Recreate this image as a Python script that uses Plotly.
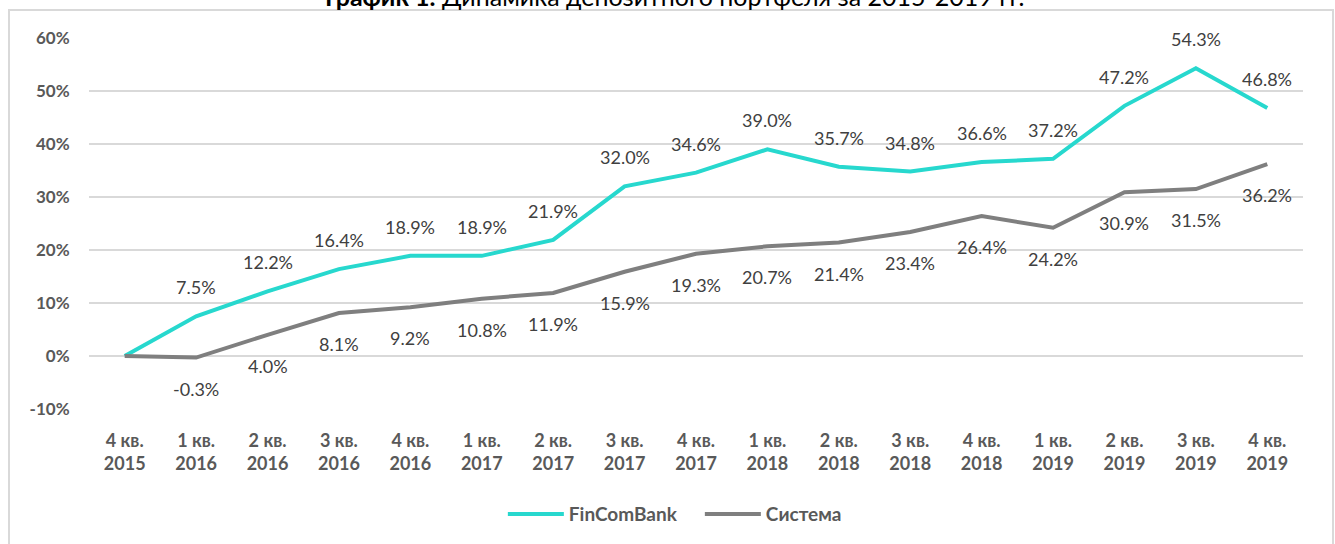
import plotly.graph_objects as go

categories = ["4 кв.<br>2015", "1 кв.<br>2016", "2 кв.<br>2016", "3 кв.<br>2016", "4 кв.<br>2016",
              "1 кв.<br>2017", "2 кв.<br>2017", "3 кв.<br>2017", "4 кв.<br>2017", "1 кв.<br>2018",
              "2 кв.<br>2018", "3 кв.<br>2018", "4 кв.<br>2018", "1 кв.<br>2019", "2 кв.<br>2019",
              "3 кв.<br>2019", "4 кв.<br>2019"]
fincombank = [0.0, 7.5, 12.2, 16.4, 18.9, 18.9, 21.9, 32.0, 34.6, 39.0, 35.7, 34.8, 36.6, 37.2, 47.2, 54.3, 46.8]
sistema = [0.0, -0.3, 4.0, 8.1, 9.2, 10.8, 11.9, 15.9, 19.3, 20.7, 21.4, 23.4, 26.4, 24.2, 30.9, 31.5, 36.2]
y_ticks = [-10, 0, 10, 20, 30, 40, 50, 60]

TEAL = "#27D8CE"
GRAY = "#7F7F7F"
TXT = "#595959"
FONT = "Lato, Open Sans, sans-serif"

fig = go.Figure()
fig.add_trace(go.Scatter(x=categories, y=fincombank, mode="lines", name="FinComBank",
                         line=dict(color=TEAL, width=4)))
fig.add_trace(go.Scatter(x=categories, y=sistema, mode="lines", name="Система",
                         line=dict(color=GRAY, width=4)))

annotations = []
for i, (c, v) in enumerate(zip(categories, fincombank)):
    if i == 0:
        continue
    annotations.append(dict(x=c, y=v, text=f"{v:.1f}%", showarrow=False, yshift=29,
                            font=dict(family=FONT, size=18, color="#404040")))
for i, (c, v) in enumerate(zip(categories, sistema)):
    if i == 0:
        continue
    annotations.append(dict(x=c, y=v, text=f"{v:.1f}%", showarrow=False, yshift=-31,
                            font=dict(family=FONT, size=18, color="#404040")))

annotations.append(dict(xref="paper", yref="paper", x=0.482, y=1.114, xanchor="center", yanchor="middle",
                        text="<b>График 1.</b> Динамика депозитного портфеля за 2015-2019 гг.",
                        showarrow=False, font=dict(family=FONT, size=25, color="#000000")))

fig.update_layout(
    width=1335, height=544,
    margin=dict(l=89, r=32, t=38, b=134),
    paper_bgcolor="white", plot_bgcolor="white",
    font=dict(family=FONT, color=TXT),
    showlegend=True,
    legend=dict(orientation="h", x=0.3409, y=-0.28, xanchor="left", yanchor="middle",
                font=dict(family=FONT, size=19, color=TXT, weight="bold"), itemwidth=56,
                entrywidth=126, entrywidthmode="pixels"),
    annotations=annotations,
    shapes=[dict(type="rect", xref="paper", yref="paper", x0=-0.0659, x1=1.0247, y0=-0.45, y1=1.0753,
                 line=dict(color="#D9D9D9", width=2), layer="below")],
)
fig.update_xaxes(type="category", range=[-0.5, 16.5], showgrid=False, zeroline=False, showline=False,
                 ticks="outside", ticklen=15, tickcolor="rgba(0,0,0,0)",
                 tickfont=dict(family=FONT, size=18, color=TXT, weight="bold"))
fig.update_yaxes(range=[-10, 60], tickvals=y_ticks, ticktext=[f"{t}%" for t in y_ticks],
                 showgrid=True, gridcolor="#D9D9D9", gridwidth=1.5, zeroline=False, showline=False,
                 ticks="outside", ticklen=15, tickcolor="rgba(0,0,0,0)",
                 tickfont=dict(family=FONT, size=17, color=TXT, weight="bold"))

fig.write_html("out.html", config={"displayModeBar": False},
               post_script="document.body.style.margin='0';document.body.style.overflow='hidden';")
